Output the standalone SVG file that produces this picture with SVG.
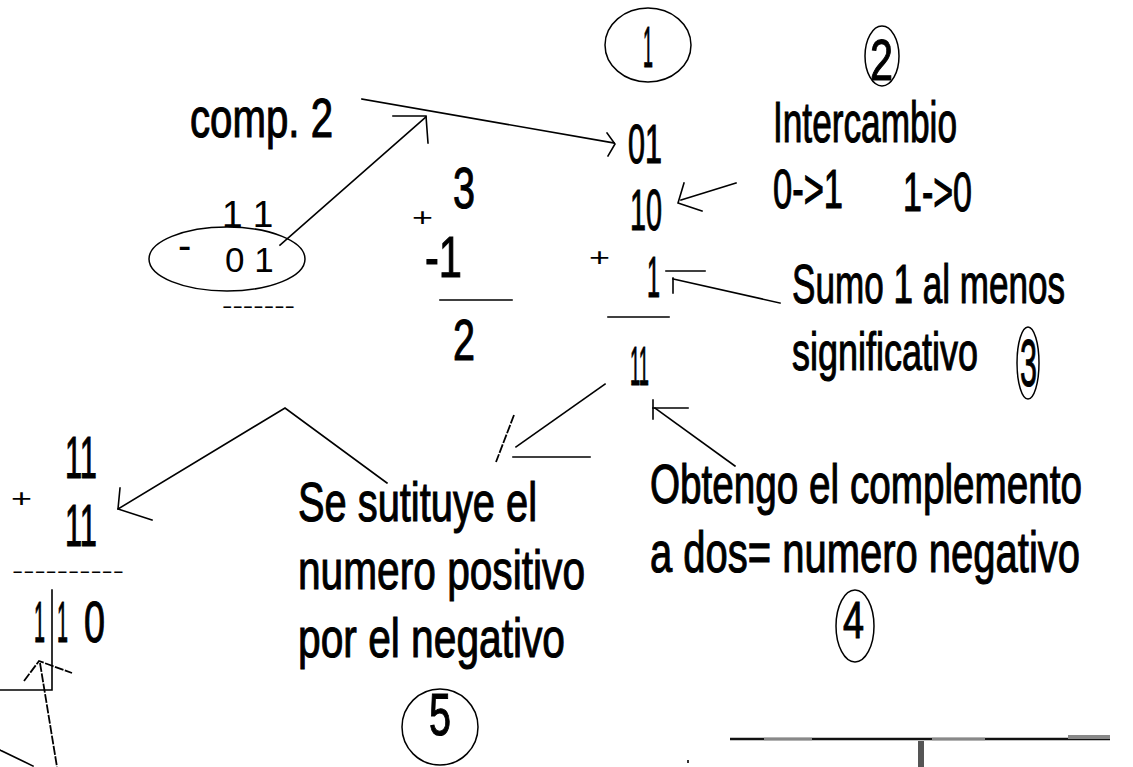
<svg xmlns="http://www.w3.org/2000/svg" width="1133" height="767" viewBox="0 0 1133 767">
<style>
.a{font-family:"Liberation Sans",Arial,sans-serif;fill:#000;stroke:#000;stroke-width:1.1}
.s{font-family:"Liberation Sans",Arial,sans-serif;fill:#000}
.ln{stroke:#000;stroke-width:1.6;fill:none;stroke-linecap:square}
.el{stroke:#000;stroke-width:1.5;fill:none}
.dl{stroke:#000;stroke-width:1.8;fill:none;stroke-dasharray:9 1.5}
</style>
<rect width="1133" height="767" fill="#fff"/>
<g id="comp2"><text class="a" x="190" y="137" font-size="55" textLength="143" lengthAdjust="spacingAndGlyphs">comp. 2</text></g>
<g id="resta-binaria">
<text class="s" x="222" y="227" font-size="37">1 1</text>
<text class="s" x="178" y="259" font-size="40">-</text>
<text class="s" x="225" y="272" font-size="35">0 1</text>
<ellipse class="el" cx="227" cy="259" rx="78" ry="32"/>
<text class="s" x="222" y="313" font-size="20" textLength="73" lengthAdjust="spacingAndGlyphs">-------</text>
</g>
<g id="resta-decimal">
<text class="s" x="412" y="226" font-size="26" textLength="21" lengthAdjust="spacingAndGlyphs">+</text>
<text class="a" x="453" y="208" font-size="58" textLength="22" lengthAdjust="spacingAndGlyphs">3</text>
<text class="a" x="425" y="277" font-size="58" textLength="37" lengthAdjust="spacingAndGlyphs">-1</text>
<line class="ln" x1="440" y1="300" x2="512" y2="300"/>
<text class="a" x="453" y="360" font-size="58" textLength="22" lengthAdjust="spacingAndGlyphs">2</text>
</g>
<g id="paso1">
<ellipse class="el" cx="648" cy="45" rx="43" ry="37"/>
<text class="a" x="643" y="67" font-size="58" textLength="10" lengthAdjust="spacingAndGlyphs">1</text>
</g>
<g id="complemento">
<text class="a" x="628" y="163" font-size="55" textLength="34" lengthAdjust="spacingAndGlyphs">01</text>
<text class="a" x="630" y="230" font-size="58" textLength="32" lengthAdjust="spacingAndGlyphs">10</text>
<text class="s" x="589" y="266" font-size="26" textLength="21" lengthAdjust="spacingAndGlyphs">+</text>
<text class="a" x="647" y="297" font-size="58" textLength="13" lengthAdjust="spacingAndGlyphs">1</text>
<line class="ln" x1="608" y1="317" x2="669" y2="317"/>
<text class="a" x="630" y="385" font-size="55" textLength="19" lengthAdjust="spacingAndGlyphs">11</text>
</g>
<g id="paso2">
<ellipse class="el" cx="882" cy="56" rx="17" ry="30"/>
<text class="a" x="870" y="80" font-size="58" textLength="23" lengthAdjust="spacingAndGlyphs">2</text>
<text class="a" x="773" y="142" font-size="57" textLength="184" lengthAdjust="spacingAndGlyphs">Intercambio</text>
<text class="a" x="773" y="208" font-size="56" textLength="70" lengthAdjust="spacingAndGlyphs">0-&gt;1</text>
<text class="a" x="903" y="211" font-size="56" textLength="69" lengthAdjust="spacingAndGlyphs">1-&gt;0</text>
</g>
<g id="paso3">
<text class="a" x="792" y="303" font-size="56" textLength="273" lengthAdjust="spacingAndGlyphs">Sumo 1 al menos</text>
<text class="a" x="792" y="370" font-size="53" textLength="186" lengthAdjust="spacingAndGlyphs">significativo</text>
<ellipse class="el" cx="1028" cy="363" rx="11" ry="36"/>
<text class="a" x="1020" y="386" font-size="66" textLength="17" lengthAdjust="spacingAndGlyphs">3</text>
</g>
<g id="paso4">
<text class="a" x="650" y="503" font-size="55" textLength="432" lengthAdjust="spacingAndGlyphs">Obtengo el complemento</text>
<text class="a" x="650" y="572" font-size="57" textLength="430" lengthAdjust="spacingAndGlyphs">a dos= numero negativo</text>
<ellipse class="el" cx="855" cy="626" rx="19" ry="36"/>
<text class="a" x="843" y="638" font-size="52" textLength="21" lengthAdjust="spacingAndGlyphs">4</text>
</g>
<g id="paso5">
<text class="a" x="298" y="521" font-size="56" textLength="239" lengthAdjust="spacingAndGlyphs">Se sutituye el</text>
<text class="a" x="298" y="589" font-size="56" textLength="287" lengthAdjust="spacingAndGlyphs">numero positivo</text>
<text class="a" x="298" y="657" font-size="56" textLength="267" lengthAdjust="spacingAndGlyphs">por el negativo</text>
<ellipse class="el" cx="440" cy="727" rx="38" ry="38"/>
<text class="a" x="429" y="735" font-size="59" textLength="22" lengthAdjust="spacingAndGlyphs">5</text>
</g>
<g id="suma-final">
<text class="s" x="11" y="507" font-size="26" textLength="21" lengthAdjust="spacingAndGlyphs">+</text>
<text class="a" x="65" y="478" font-size="59" textLength="32" lengthAdjust="spacingAndGlyphs">11</text>
<text class="a" x="65" y="546" font-size="60" textLength="32" lengthAdjust="spacingAndGlyphs">11</text>
<text class="s" x="12" y="578" font-size="20" textLength="112" lengthAdjust="spacingAndGlyphs">----------</text>
<text class="a" x="34" y="642" font-size="58" textLength="11" lengthAdjust="spacingAndGlyphs">1</text>
<text class="a" x="57" y="642" font-size="58" textLength="11" lengthAdjust="spacingAndGlyphs">1</text>
<text class="a" x="84" y="642" font-size="58" textLength="21" lengthAdjust="spacingAndGlyphs">0</text>
</g>
<g id="connectors">
<polyline class="ln" points="362,99 614,143"/>
<polyline class="ln" points="607,133 615,144 608,156"/>
<polyline class="ln" points="280,245 426,117"/>
<polyline class="ln" points="393,116 426,116 428,143"/>
<polyline class="ln" points="736,183 681,200"/>
<polyline class="ln" points="684,183 678,203 702,211"/>
<polyline class="ln" points="780,303 673,279"/>
<polyline class="ln" points="666,271 705,271"/>
<polyline class="ln" points="673,278 673,293"/>
<polyline class="ln" points="605,384 516,447"/>
<polyline class="dl" points="514,415 496,462"/>
<polyline class="ln" points="513,457 590,457"/>
<polyline class="ln" points="735,466 655,408"/>
<polyline class="ln" points="653,408 688,408"/>
<polyline class="ln" points="653,400 653,419"/>
<polyline class="ln" points="387,483 285,408 118,509"/>
<polyline class="ln" points="120,488 118,509 152,520"/>
<polyline class="ln" points="52,590 52,690 0,690"/>
<polyline class="dl" points="40,663 57,767"/>
<polyline class="dl" points="24,681 39,661 50,665 72,673"/>
<polyline class="ln" points="0,750 33,766"/>
<line x1="730" y1="739" x2="1110" y2="739" stroke="#111" stroke-width="2.5"/>
<line x1="764" y1="739" x2="812" y2="739" stroke="#888" stroke-width="2.5"/>
<line x1="932" y1="739" x2="985" y2="739" stroke="#888" stroke-width="2.5"/>
<line x1="1068" y1="737" x2="1110" y2="737" stroke="#888" stroke-width="4"/>
<line x1="921" y1="741" x2="921" y2="767" stroke="#555" stroke-width="6"/>
<rect x="687" y="760" width="2" height="3" fill="#333"/>
</g>
</svg>
